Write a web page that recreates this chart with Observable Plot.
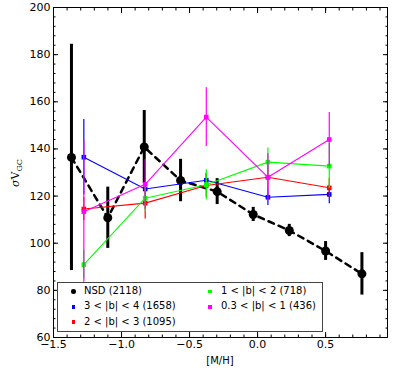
<!DOCTYPE html>
<html><head><meta charset="utf-8">
<script src="https://cdn.jsdelivr.net/npm/d3@7"></script>
<script src="https://cdn.jsdelivr.net/npm/@observablehq/plot@0.6"></script>
<style>
body{margin:0;background:#fff;font-family:"DejaVu Sans",sans-serif;}
#wrap{position:relative;width:407px;height:387px;}
#legend{position:absolute;left:57px;top:282px;width:266px;height:50px;border:1.5px solid #444;background:#fff;box-sizing:border-box;font-size:10px;color:#000;}
.li{position:absolute;white-space:nowrap;line-height:12px;}
.mk{position:absolute;}
</style></head><body><div id="wrap"></div>
<script>
// NSD sample
const nsdX = [-1.368, -1.101, -0.833, -0.566, -0.297, -0.032, 0.233, 0.5, 0.767];
const nsdY = [136.4, 110.8, 140.8, 126.6, 121.9, 112.2, 105.4, 96.7, 87.0];
const nsdErr = [48, 13, 15.5, 9, 5.5, 3, 2.6, 4, 9];
// subsample bins
const binX = [-1.277, -0.826, -0.377, 0.076, 0.527];
const blueY = [136.5, 123.0, 126.7, 119.5, 120.7];
const blueErr = [16, 3, 3, 3.5, 4];
const redY = [114.5, 117.0, 124.5, 128.0, 123.5];
const redErr = [5, 6.7, 5, 5, 4];
const greenY = [90.9, 119.1, 124.8, 134.4, 132.7];
const greenErr = [6, 6, 6.4, 6, 9.6];
const pinkY = [113.4, 125.0, 153.5, 128.0, 144.0];
const pinkErr = [30, 10.6, 12.5, 10, 11.5];
const seriesNames = ["NSD (2118)", "3 < |b| < 4 (1658)", "2 < |b| < 3 (1095)", "1 < |b| < 2 (718)", "0.3 < |b| < 1 (436)"];
const seriesColors = ["#000000", "#0000ff", "#ff0000", "#00ff00", "#ff00ff"];
const yTicks = [60, 80, 100, 120, 140, 160, 180, 200];
const yMinor = d3.range(60, 201, 4);
const xTicks = [-1.5, -1.0, -0.5, 0.0, 0.5];
const xMinor = d3.range(-15, 10).map(d => d / 10);

const nsd = nsdX.map((x, i) => ({x, y: nsdY[i], e: nsdErr[i]}));
const errsList = [blueErr, redErr, greenErr, pinkErr];
const subs = [blueY, redY, greenY, pinkY].map((ys, k) => ({
  color: seriesColors[k + 1],
  data: binX.map((x, i) => ({x, y: ys[i], e: errsList[k][i]}))
}));

const fmt = d3.format(".1f");
const marks = [
  Plot.ruleX(nsd, {x: "x", y1: d => d.y - d.e, y2: d => d.y + d.e, stroke: "#000", strokeWidth: 3}),
  Plot.line(nsd, {x: "x", y: "y", stroke: "#000", strokeWidth: 2.5, strokeDasharray: "6,5"}),
  Plot.dot(nsd, {x: "x", y: "y", r: 4.5, fill: "#000"}),
];
for (const s of subs) {
  marks.push(
    Plot.ruleX(s.data, {x: "x", y1: d => d.y - d.e, y2: d => d.y + d.e, stroke: s.color, strokeWidth: 1.2}),
    Plot.line(s.data, {x: "x", y: "y", stroke: s.color, strokeWidth: 1.1}),
    Plot.dot(s.data, {x: "x", y: "y", symbol: "square", r: 2.6, fill: s.color})
  );
}
marks.push(
  Plot.frame({stroke: "#000", strokeWidth: 1}),
  Plot.axisY({anchor: "left", ticks: yTicks, tickSize: -5, tickPadding: 8, fontSize: 11, label: null}),
  Plot.axisY({anchor: "left", ticks: yMinor, tickSize: -2.5, tickFormat: () => "", label: null}),
  Plot.axisY({anchor: "right", ticks: yTicks, tickSize: -5, tickFormat: () => "", label: null}),
  Plot.axisY({anchor: "right", ticks: yMinor, tickSize: -2.5, tickFormat: () => "", label: null}),
  Plot.axisX({anchor: "bottom", ticks: xTicks, tickSize: -5, tickPadding: 8, tickFormat: fmt, fontSize: 11, label: null}),
  Plot.axisX({anchor: "bottom", ticks: xMinor, tickSize: -2.5, tickFormat: () => "", label: null}),
  Plot.axisX({anchor: "top", ticks: xTicks, tickSize: -5, tickFormat: () => "", label: null}),
  Plot.axisX({anchor: "top", ticks: xMinor, tickSize: -2.5, tickFormat: () => "", label: null})
);

const svg = Plot.plot({
  width: 407, height: 387,
  marginLeft: 53, marginRight: 20, marginTop: 7, marginBottom: 50,
  style: {fontFamily: "DejaVu Sans", fontSize: "11px", color: "#000", background: "#fff"},
  x: {domain: [-1.5, 0.955]},
  y: {domain: [60, 200]},
  marks
});
const wrap = document.getElementById("wrap");
wrap.appendChild(svg);

// axis titles
const s = d3.select(svg);
s.append("text").attr("x", 220).attr("y", 364).attr("text-anchor", "middle")
  .attr("font-family", "DejaVu Sans").attr("font-size", 10).attr("fill", "#000").text("[M/H]");
const yl = s.append("text").attr("transform", "translate(19,173) rotate(-90)").attr("text-anchor", "middle")
  .attr("font-family", "DejaVu Serif").attr("font-size", 11).attr("fill", "#000");
yl.append("tspan").attr("font-style", "italic").text("σ");
yl.append("tspan").text("V");
yl.append("tspan").attr("font-size", 8).attr("dy", 2.5).text("GC");

// legend
const leg = document.createElement("div");
leg.id = "legend";
const pos = [[0, 0], [0, 1], [0, 2], [1, 0], [1, 1]];
seriesNames.forEach((name, i) => {
  const [c, r] = pos[i];
  const cy = 8.5 + r * 15.3;
  const mx = c === 0 ? 15.5 : 152;
  const tx = c === 0 ? 26 : 163;
  const mk = document.createElement("div");
  mk.className = "mk";
  const sz = i === 0 ? 4.5 : 3.5;
  mk.style.cssText = `left:${mx - sz / 2}px;top:${cy - sz / 2}px;width:${sz}px;height:${sz}px;background:${seriesColors[i]};border-radius:${i === 0 ? "50%" : "0"}`;
  const t = document.createElement("div");
  t.className = "li";
  t.style.left = tx + "px";
  t.style.top = (cy - 6.5) + "px";
  t.textContent = name;
  leg.appendChild(mk);
  leg.appendChild(t);
});
wrap.appendChild(leg);
</script></body></html>
